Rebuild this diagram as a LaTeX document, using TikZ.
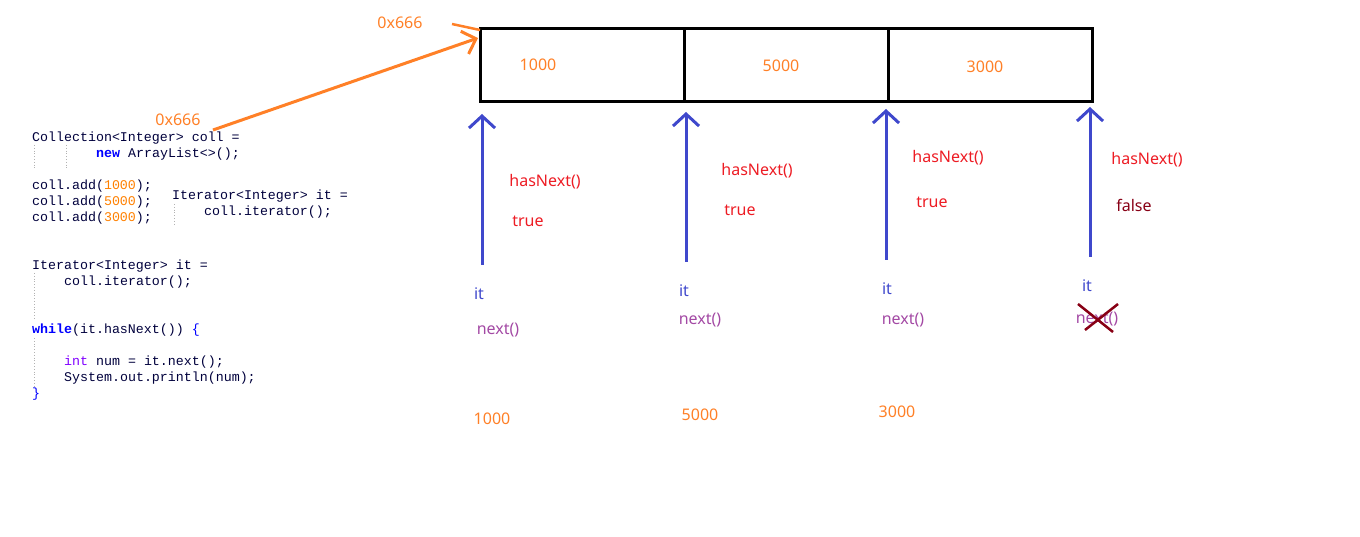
\documentclass[tikz,border=0pt]{standalone}
\usepackage{fontspec}
\setmainfont{Noto Sans}
\setmonofont{Liberation Mono}
\usetikzlibrary{arrows.meta}
\definecolor{cOr}{RGB}{255,128,39}
\definecolor{cBl}{RGB}{63,72,204}
\definecolor{cRd}{RGB}{237,28,36}
\definecolor{cDr}{RGB}{136,0,21}
\definecolor{cPu}{RGB}{163,73,164}
\definecolor{cNv}{RGB}{0,0,60}
\definecolor{cKw}{RGB}{0,0,255}
\definecolor{cIn}{RGB}{128,0,255}
\definecolor{cNum}{RGB}{255,128,0}
\tikzset{
  lbl/.style={font=\fontsize{16}{18}\selectfont, inner sep=0pt},
  orl/.style={lbl, text=cOr},
  hn/.style={lbl, text=cRd},
  itl/.style={lbl, text=cBl},
  nxl/.style={lbl, text=cPu},
  code/.style={font=\ttfamily\fontsize{13.3}{16}\selectfont, text=cNv, anchor=west, inner sep=0pt},
  guide/.style={draw=gray!60, dotted, line width=0.8pt},
  barr/.style={draw=cBl, line width=3pt, -{Straight Barb[length=12pt,width=26pt,line width=3pt]}},
  cell/.style={draw=black, line width=3pt},
}
\newcommand{\kw}[1]{\textcolor{cKw}{\textbf{#1}}}
\newcommand{\nm}[1]{\textcolor{cNum}{#1}}
\begin{document}
\begin{tikzpicture}[x=1pt,y=-1pt]
\useasboundingbox (0,0) rectangle (1360,537);
% array box
\draw[cell] (480,29) rectangle (1092,102);
\draw[cell] (684,29) -- (684,102);
\draw[cell] (888,29) -- (888,102);
\coordinate (boxtl) at (478,38);
\node[orl] (v1) at (538,65) {1000};
\node[orl] (v2) at (781,66) {5000};
\node[orl] (v3) at (985,67) {3000};
% address labels
\node[orl] (addr1) at (400,23) {0x666};
\node[orl] (addr2) at (178,120) {0x666};
\coordinate (collref) at (213,130);
\coordinate (tick1) at (452,24);
\coordinate (tick2) at (480,30);
\draw[cOr, line width=3pt, -{Straight Barb[length=12pt,width=24pt,line width=3pt]}] (collref) -- (boxtl);
\draw[cOr, line width=2.5pt] (tick1) -- (tick2);
% blue arrows
\coordinate (a1b) at (482,265); \coordinate (a1t) at (482,114);
\coordinate (a2b) at (686,262); \coordinate (a2t) at (686,112);
\coordinate (a3b) at (886,260); \coordinate (a3t) at (886,109);
\coordinate (a4b) at (1090,257); \coordinate (a4t) at (1090,107);
\draw[barr] (a1b) -- (a1t);
\draw[barr] (a2b) -- (a2t);
\draw[barr] (a3b) -- (a3t);
\draw[barr] (a4b) -- (a4t);
% hasNext labels
\node[hn] (h1) at (545,182) {hasNext()};
\node[hn] (h2) at (757,171) {hasNext()};
\node[hn] (h3) at (948,158) {hasNext()};
\node[hn] (h4) at (1147,160) {hasNext()};
\node[hn] (t1) at (528,221) {true};
\node[hn] (t2) at (740,210) {true};
\node[hn] (t3) at (932,202) {true};
\node[lbl, text=cDr] (f4) at (1134,205) {false};
% it labels
\node[itl] (i1) at (479,294) {it};
\node[itl] (i2) at (684,291) {it};
\node[itl] (i3) at (887,289) {it};
\node[itl] (i4) at (1087,286) {it};
% next labels
\node[nxl] (n1) at (498,330) {next()};
\node[nxl] (n2) at (700,320) {next()};
\node[nxl] (n3) at (903,320) {next()};
\node[nxl] (n4) at (1097,319) {next()};
\draw[cDr, line width=2.5pt] (1078,304) -- (1113,332);
\draw[cDr, line width=2.5pt] (1118,304) -- (1085,330);
% output values
\node[orl] (o1) at (492,419) {1000};
\node[orl] (o2) at (700,415) {5000};
\node[orl] (o3) at (897,412) {3000};
% code
\node[code] (c1) at (32,138) {Collection<Integer> coll =};
\node[code] (c2) at (96,154) {\kw{new} ArrayList<>();};
\node[code] (c3) at (32,186) {coll.add(\nm{1000});};
\node[code] (c4) at (32,202) {coll.add(\nm{5000});};
\node[code] (c5) at (32,218) {coll.add(\nm{3000});};
\node[code] (c6) at (172,196) {Iterator<Integer> it =};
\node[code] (c7) at (204,212) {coll.iterator();};
\node[code] (c8) at (32,266) {Iterator<Integer> it =};
\node[code] (c9) at (64,282) {coll.iterator();};
\node[code] (c10) at (32,330) {\kw{while}(it.hasNext()) \textcolor{cKw}{\{}};
\node[code] (c11) at (64,362) {\textcolor{cIn}{int} num = it.next();};
\node[code] (c12) at (64,378) {System.out.println(num);};
\node[code] (c13) at (32,394) {\textcolor{cKw}{\}}};
% indent guides
\draw[guide] (34,145) -- (34,170);
\draw[guide] (66,145) -- (66,170);
\draw[guide] (174,204) -- (174,226);
\draw[guide] (34,273) -- (34,318);
\draw[guide] (34,338) -- (34,386);
\end{tikzpicture}
\end{document}
